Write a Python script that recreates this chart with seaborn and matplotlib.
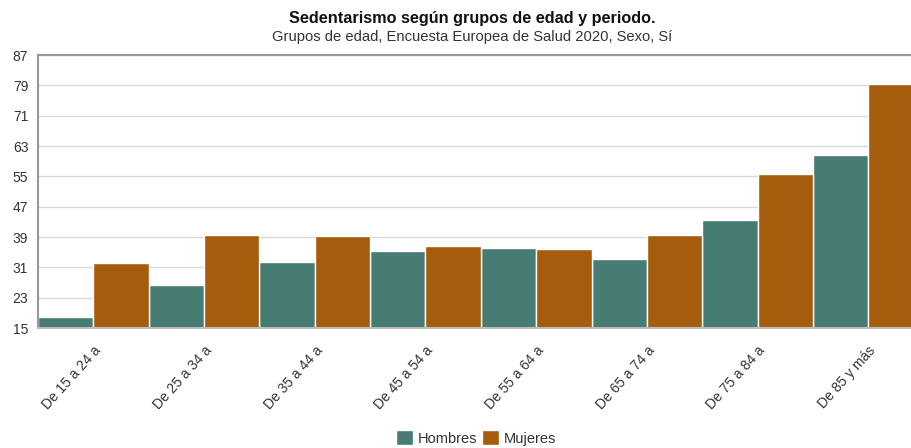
import matplotlib
matplotlib.use("Agg")
import matplotlib.pyplot as plt
import numpy as np
import pandas as pd
import seaborn as sns

# data
grupos = ["De 15 a 24 a", "De 25 a 34 a", "De 35 a 44 a", "De 45 a 54 a",
          "De 55 a 64 a", "De 65 a 74 a", "De 75 a 84 a", "De 85 y más"]
hombres = [18.0, 26.4, 32.4, 35.2, 36.2, 33.3, 43.5, 60.5]
mujeres = [32.1, 39.4, 39.2, 36.7, 35.8, 39.4, 55.7, 79.3]
y_ticks = [15, 23, 31, 39, 47, 55, 63, 71, 79, 87]

COLORS = {"Hombres": "#467C74", "Mujeres": "#A55D0D"}

df = pd.DataFrame({
    "grupo": grupos * 2,
    "valor": hombres + mujeres,
    "sexo": ["Hombres"] * len(grupos) + ["Mujeres"] * len(grupos),
})

sns.set_theme(style="white")
plt.rcParams["font.family"] = ["Liberation Sans", "DejaVu Sans"]

fig = plt.figure(figsize=(9.11, 4.48), dpi=100)
ax = fig.add_axes([38 / 911, 120 / 448, 885.6 / 911, 273 / 448])

sns.barplot(
    data=df, x="grupo", y="valor", hue="sexo", order=grupos,
    hue_order=["Hombres", "Mujeres"], palette=COLORS, width=1.0,
    edgecolor="white", linewidth=1, saturation=1, ax=ax, legend=True,
)

ax.set_xlim(-0.5, len(grupos) - 0.5)
ax.set_ylim(15, 87)
ax.set_yticks(y_ticks)
ax.set_yticklabels([str(t) for t in y_ticks], fontsize=10, color="#333333")
ax.yaxis.grid(True, color="#d9d9d9", linewidth=1)
ax.set_axisbelow(True)

# tick marks at group boundaries, labels at group centres
ax.set_xticks(np.arange(len(grupos)) - 0.5)
ax.set_xticklabels([])
ax.set_xticks(np.arange(len(grupos)), minor=True)
ax.set_xticklabels(grupos, minor=True, rotation=48, ha="right",
                   rotation_mode="anchor", fontsize=10, color="#333333")
ax.tick_params(axis="x", which="major", length=5, color="#bbbbbb", width=1)
ax.tick_params(axis="x", which="minor", length=0, pad=11)
ax.tick_params(axis="y", length=5, color="#999999", width=1, pad=2)
ax.set_xlabel("")
ax.set_ylabel("")

for side in ["left", "top", "bottom"]:
    ax.spines[side].set_visible(True)
ax.spines["left"].set_color("#999999")
ax.spines["left"].set_linewidth(1.5)
ax.spines["top"].set_color("#999999")
ax.spines["top"].set_linewidth(1.5)
ax.spines["bottom"].set_color("#bbbbbb")
ax.spines["bottom"].set_linewidth(1.5)
ax.spines["right"].set_visible(False)

fig.text(472 / 911, 1 - 18 / 448, "Sedentarismo según grupos de edad y periodo.",
         ha="center", va="center", fontsize=11.7, fontweight="bold", color="#111111")
fig.text(472 / 911, 1 - 37 / 448, "Grupos de edad, Encuesta Europea de Salud 2020, Sexo, Sí",
         ha="center", va="center", fontsize=10.6, color="#333333")

handles, labels = ax.get_legend_handles_labels()
ax.get_legend().remove()
fig.legend(handles, labels, loc="center", bbox_to_anchor=(476 / 911, 1 - 438 / 448),
           ncol=2, frameon=False, fontsize=10.5, handlelength=1.2, handleheight=1.2,
           handletextpad=0.3, columnspacing=0.3, labelcolor="#333333")

fig.savefig("out.png", dpi=100)
